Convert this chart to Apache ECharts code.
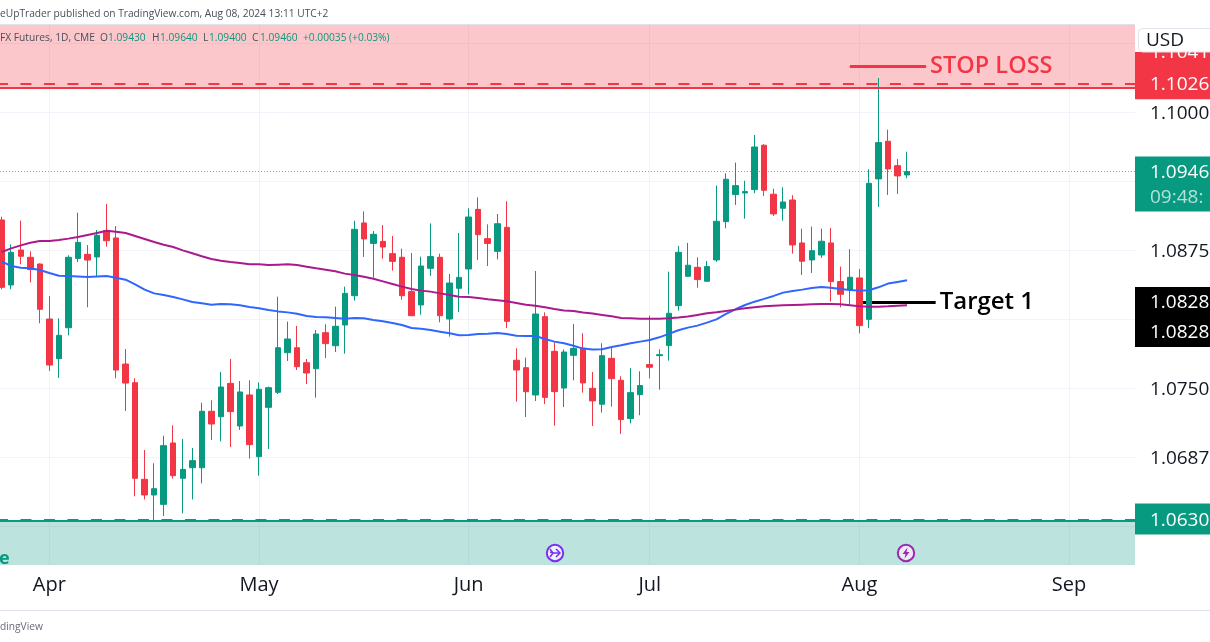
<!DOCTYPE html>
<html><head><meta charset="utf-8">
<style>html,body{margin:0;padding:0;background:#fff}#c{width:1210px;height:642px}</style>
<script src="https://cdn.jsdelivr.net/npm/echarts@6/dist/echarts.min.js"></script>
</head><body><div id="c"></div>
<script>
const dates=["03-22","03-25","03-26","03-27","03-28",
"04-01","04-02","04-03","04-04","04-05","04-08","04-09","04-10","04-11","04-12","04-15","04-16","04-17","04-18","04-19","04-22","04-23","04-24","04-25","04-26","04-29","04-30",
"05-01","05-02","05-03","05-06","05-07","05-08","05-09","05-10","05-13","05-14","05-15","05-16","05-17","05-20","05-21","05-22","05-23","05-24","05-28","05-29","05-30","05-31",
"06-03","06-04","06-05","06-06","06-07","06-10","06-11","06-12","06-13","06-14","06-17","06-18","06-20","06-21","06-24","06-25","06-26","06-27","06-28",
"07-01","07-02","07-03","07-05","07-08","07-09","07-10","07-11","07-12","07-15","07-16","07-17","07-18","07-19","07-22","07-23","07-24","07-25","07-26","07-29","07-30","07-31",
"08-01","08-02","08-05","08-06","08-07","08-08","08-09","08-12","08-13","08-14","08-15","08-16","08-19","08-20","08-21","08-22","08-23","08-26","08-27","08-28","08-29","08-30",
"09-02","09-03","09-04","09-05","09-06","09-09","09-10","09-11"];
const monthTicks={"04-01":"Apr","05-01":"May","06-03":"Jun","07-01":"Jul","08-01":"Aug","09-02":"Sep"};
const priceTicks={"1.10000":"1.1000","1.08750":"1.0875","1.07500":"1.0750","1.06875":"1.0687"};

const opens=[1.09022,1.08433,1.08750,1.08684,1.08623,1.08125,1.07766,1.08046,1.08674,1.08711,1.08687,1.08925,1.08859,1.07717,1.07548,1.06673,1.06531,1.06446,1.07002,1.06682,1.06778,1.06778,1.07289,1.07240,1.07542,1.07156,1.07437,1.06878,1.07325,1.07461,1.07820,1.07865,1.07729,1.07675,1.08001,1.07883,1.08071,1.08336,1.08995,1.08810,1.08828,1.08717,1.08684,1.08373,1.08252,1.08584,1.08684,1.08125,1.08403,1.08578,1.09118,1.08853,1.08738,1.08955,1.07751,1.07684,1.07437,1.08146,1.07832,1.07500,1.07796,1.07860,1.07497,1.07353,1.07769,1.07570,1.07223,1.07440,1.07712,1.07793,1.07884,1.08246,1.08512,1.08593,1.08467,1.08660,1.09007,1.09252,1.09267,1.09297,1.09699,1.09255,1.09128,1.09203,1.08814,1.08660,1.08705,1.08814,1.08464,1.08388,1.08497,1.08122,1.09394,1.09735,1.09514,1.09430];
const closes=[1.08412,1.08729,1.08693,1.08572,1.08213,1.07708,1.07977,1.08684,1.08819,1.08659,1.08883,1.08834,1.07663,1.07545,1.06682,1.06531,1.06588,1.06978,1.06706,1.06763,1.06842,1.07289,1.07174,1.07509,1.07286,1.07464,1.06987,1.07488,1.07503,1.07865,1.07944,1.07693,1.07636,1.07989,1.07902,1.08059,1.08357,1.08937,1.08850,1.08892,1.08777,1.08647,1.08336,1.08155,1.08605,1.08690,1.08155,1.08451,1.08502,1.09049,1.08889,1.08810,1.08988,1.08104,1.07663,1.07467,1.08170,1.07415,1.07467,1.07826,1.07859,1.07546,1.07383,1.07793,1.07585,1.07214,1.07458,1.07522,1.07688,1.07802,1.08177,1.08729,1.08612,1.08482,1.08600,1.09010,1.09391,1.09333,1.09279,1.09683,1.09291,1.09077,1.09185,1.08796,1.08648,1.08744,1.08829,1.08464,1.08349,1.08503,1.08065,1.09354,1.09723,1.09484,1.09421,1.09460];
const lows=[1.08394,1.08394,1.08620,1.08457,1.08086,1.07654,1.07591,1.07977,1.08641,1.08231,1.08508,1.08780,1.07588,1.07292,1.06519,1.06491,1.06298,1.06341,1.06679,1.06365,1.06491,1.06636,1.07029,1.07017,1.06966,1.07120,1.06860,1.06706,1.06947,1.07446,1.07745,1.07663,1.07536,1.07412,1.07772,1.07826,1.07811,1.08291,1.08687,1.08499,1.08671,1.08563,1.08300,1.08152,1.08164,1.08517,1.08095,1.07965,1.08188,1.08348,1.08659,1.08605,1.08665,1.08043,1.07376,1.07237,1.07382,1.07355,1.07159,1.07328,1.07569,1.07458,1.07156,1.07277,1.07331,1.07084,1.07180,1.07253,1.07588,1.07485,1.07748,1.08201,1.08506,1.08409,1.08464,1.08642,1.08947,1.09158,1.09034,1.09264,1.09240,1.09058,1.09016,1.08717,1.08524,1.08542,1.08678,1.08282,1.08231,1.08252,1.07996,1.08044,1.09140,1.09249,1.09258,1.09400];
const highs=[1.09052,1.08801,1.09016,1.08738,1.08629,1.08333,1.08131,1.08702,1.09088,1.08795,1.08931,1.09167,1.08967,1.07853,1.07588,1.06938,1.06818,1.07068,1.07162,1.07038,1.06956,1.07367,1.07388,1.07645,1.07763,1.07563,1.07569,1.07551,1.07512,1.08327,1.08101,1.08062,1.07763,1.08025,1.08077,1.08237,1.08418,1.09016,1.09100,1.08922,1.08976,1.08877,1.08762,1.08723,1.08690,1.08991,1.08717,1.08533,1.08904,1.09127,1.09227,1.08982,1.09076,1.09191,1.07859,1.07775,1.08560,1.08185,1.07914,1.07850,1.08080,1.07996,1.07645,1.07905,1.07866,1.07606,1.07679,1.07651,1.08156,1.07851,1.08554,1.08787,1.08814,1.08684,1.08651,1.09333,1.09445,1.09542,1.09378,1.09792,1.09708,1.09306,1.09318,1.09246,1.08944,1.08962,1.08944,1.08950,1.08600,1.08757,1.08578,1.09481,1.10308,1.09840,1.09575,1.09640];
const maBlue=[1.08644,1.08605,1.08590,1.08584,1.08569,1.08542,1.08517,1.08514,1.08511,1.08505,1.08511,1.08514,1.08499,1.08481,1.08439,1.08391,1.08357,1.08342,1.08324,1.08303,1.08279,1.08267,1.08255,1.08261,1.08258,1.08249,1.08234,1.08222,1.08206,1.08194,1.08185,1.08173,1.08152,1.08143,1.08140,1.08134,1.08128,1.08134,1.08131,1.08116,1.08104,1.08089,1.08071,1.08043,1.08037,1.08025,1.08010,1.07995,1.07977,1.07980,1.07989,1.07992,1.07998,1.07989,1.07974,1.07971,1.07971,1.07944,1.07920,1.07905,1.07883,1.07857,1.07848,1.07851,1.07872,1.07887,1.07905,1.07920,1.07935,1.07959,1.07990,1.08023,1.08047,1.08065,1.08092,1.08122,1.08171,1.08213,1.08252,1.08282,1.08307,1.08334,1.08364,1.08379,1.08391,1.08406,1.08415,1.08409,1.08397,1.08388,1.08382,1.08385,1.08412,1.08446,1.08461,1.08476];
const maPurple=[1.08732,1.08765,1.08792,1.08816,1.08831,1.08831,1.08841,1.08853,1.08868,1.08886,1.08904,1.08925,1.08916,1.08904,1.08877,1.08850,1.08822,1.08798,1.08777,1.08747,1.08720,1.08693,1.08668,1.08653,1.08641,1.08632,1.08620,1.08620,1.08614,1.08617,1.08620,1.08614,1.08599,1.08584,1.08572,1.08557,1.08536,1.08523,1.08508,1.08490,1.08466,1.08442,1.08418,1.08397,1.08382,1.08373,1.08357,1.08342,1.08327,1.08324,1.08315,1.08303,1.08294,1.08285,1.08270,1.08255,1.08246,1.08231,1.08216,1.08203,1.08197,1.08183,1.08174,1.08162,1.08150,1.08135,1.08132,1.08128,1.08128,1.08128,1.08132,1.08138,1.08147,1.08162,1.08177,1.08186,1.08198,1.08210,1.08222,1.08231,1.08240,1.08246,1.08249,1.08252,1.08255,1.08258,1.08261,1.08261,1.08258,1.08249,1.08240,1.08237,1.08237,1.08240,1.08246,1.08249];

const stopEntry=1.1026, stopEdge=1.10217, stopLevel=1.1041;
const targetEntry=1.0631, targetEdge=1.0630, lastPrice=1.0946, targetLevel=1.0828;
const axisMin=1.05625, axisMax=1.1125, tickStep=0.00625;

const RED='#f23645',GREEN='#089981',INK='#131722',FONT='"Open Sans","Noto Sans",sans-serif';
const candleData=opens.map((o,i)=>[o,closes[i],lows[i],highs[i]]);

const chart=echarts.init(document.getElementById('c'),null,{renderer:'canvas'});
chart.setOption({
  animation:false,
  grid:[
    {left:-3.06,top:-26,width:1143.6,height:621,containLabel:false,outerBoundsMode:'none'},
    {left:-3.06,top:-24,width:1143.6,height:621,containLabel:false,outerBoundsMode:'none'}
  ],
  xAxis:[
    {type:'category',gridIndex:0,data:dates,boundaryGap:true,axisLine:{show:false},axisTick:{show:false},axisLabel:{show:false},
     splitLine:{show:true,alignWithLabel:true,interval:(i,v)=>v in monthTicks,lineStyle:{color:'#f0f3fa',width:1}},z:0},
    {type:'category',gridIndex:1,data:dates,boundaryGap:true,position:'bottom',offset:-22,axisLine:{show:false},axisTick:{show:false},splitLine:{show:false},z:30,
     axisLabel:{show:true,margin:0,interval:(i,v)=>v in monthTicks,formatter:v=>monthTicks[v]||'',color:INK,fontSize:20,fontWeight:500,fontFamily:FONT}}
  ],
  yAxis:[
    {type:'value',gridIndex:0,min:axisMin,max:axisMax,interval:tickStep,position:'right',scale:true,axisLine:{show:false},axisTick:{show:false},axisLabel:{show:false},
     splitLine:{show:true,lineStyle:{color:'#f0f3fa',width:1}},z:0},
    {type:'value',gridIndex:1,min:axisMin,max:axisMax,interval:tickStep,position:'right',scale:true,axisLine:{show:false},axisTick:{show:false},splitLine:{show:false},z:30,
     axisLabel:{show:true,margin:9.5,color:INK,fontSize:19,fontFamily:FONT,formatter:v=>priceTicks[Number(v).toFixed(5)]||''}}
  ],
  series:[
    {type:'line',name:'annot',xAxisIndex:0,yAxisIndex:0,data:[],z:1,silent:true,
     markLine:{silent:true,z:1,precision:6,symbol:'none',animation:false,data:[
       [{xAxis:'08-01',yAxis:targetLevel},{xAxis:'08-13',yAxis:targetLevel,
         lineStyle:{color:'#000',width:3,type:'solid'},
         label:{show:true,position:'end',distance:4,formatter:'Target 1',color:'#000',fontSize:24,fontWeight:600,fontFamily:FONT}}]
     ]}},
    {type:'candlestick',name:'6E',xAxisIndex:0,yAxisIndex:0,data:candleData,barWidth:6,z:2,
     itemStyle:{color:GREEN,color0:RED,borderColor:GREEN,borderColor0:RED,borderColorDoji:GREEN,borderWidth:1},
     markArea:{silent:true,data:[
       [{yAxis:stopEdge,itemStyle:{color:'rgba(242,54,69,0.28)'}},{yAxis:axisMax}],
       [{yAxis:targetEdge,itemStyle:{color:'rgba(8,153,129,0.27)'}},{yAxis:axisMin}]
     ]},
     markLine:{silent:true,precision:6,symbol:'none',animation:false,z:3,label:{show:false},data:[
       {yAxis:stopEntry,lineStyle:{color:RED,width:2,type:[11,12.5]}},
       {yAxis:stopEdge,lineStyle:{color:RED,width:2,type:'solid'}},
       {yAxis:targetEntry,lineStyle:{color:GREEN,width:2,type:[11,12.5]}},
       {yAxis:targetEdge,lineStyle:{color:GREEN,width:2,type:'solid'}},
       {yAxis:lastPrice,lineStyle:{color:'rgba(8,153,129,0.7)',width:1,type:[1,2]}},
       [{xAxis:'07-31',yAxis:stopLevel},{xAxis:'08-12',yAxis:stopLevel,
         lineStyle:{color:RED,width:3,type:'solid'},
         label:{show:true,position:'end',distance:4,padding:[6,0,0,0],formatter:'STOP LOSS',color:RED,fontSize:23.5,fontWeight:600,fontFamily:FONT}}]
     ]}},
    {type:'line',name:'MA fast',xAxisIndex:0,yAxisIndex:0,data:maBlue,showSymbol:false,z:4,lineStyle:{color:'#2f66ff',width:2},silent:true},
    {type:'line',name:'MA slow',xAxisIndex:0,yAxisIndex:0,data:maPurple,showSymbol:false,z:4,lineStyle:{color:'#ab1a8c',width:2},silent:true}
  ]
});

const Y=p=>chart.convertToPixel({yAxisIndex:0},p);
const rect=(x,y,w,h,fill,z,extra)=>Object.assign({type:'rect',shape:{x,y,width:w,height:h,r:(extra&&extra.r)||0},style:{fill,stroke:extra&&extra.stroke,lineWidth:extra&&extra.stroke?1:0},z,silent:true});
const text=(x,y,t,fill,size,z,o)=>({type:'text',x,y,z,silent:true,style:Object.assign({text:t,fill,font:`${(o&&o.weight)||400} ${size}px ${FONT}`,verticalAlign:'middle',align:'left'},o&&o.style)});
const P=1150;
const yStop=Y(stopEntry),yLast=Y(lastPrice),yTgt=Y(targetLevel),yTe=Y(targetEntry);
const header=[
 ['eUpTrader published on TradingView.com, Aug 08, 2024 13:11 UTC+2',0,'#4a4e59'],
];
const legend=[
 ['FX Futures, 1D, CME',0,'#4a4e59'],['O',100,'#4a4e59'],['1.09430',108,GREEN],['H',152,'#4a4e59'],['1.09640',160,GREEN],
 ['L',203,'#4a4e59'],['1.09400',209,GREEN],['C',252,'#4a4e59'],['1.09460',260,GREEN],['+0.00035 (+0.03%)',303,GREEN]
];
const g=[
 rect(0,0,1210,24.5,'#fff',20),
 rect(0,24,1135,1,'#e0e3eb',21),
 rect(1135,0,75,642,'#fff',20),
 rect(0,565,1210,77,'#fff',20),
 rect(0,610,1210,1,'#e0e3eb',21),
 rect(1135,52,75,yStop+16-52,RED,22),
 text(P,53,'1.1041','#fff',19,23),
 rect(1135,24,75,28,'#fff',24),
 rect(1138.5,28.5,80,23.5,'#fff',25,{stroke:'#e0e3eb',r:4}),
 text(1146,41,'USD',INK,19,26),
 text(P,yStop+1,'1.1026','#fff',19,23),
 rect(1135,yLast-15,75,55,GREEN,22),
 text(P,yLast+1,'1.0946','#fff',19,23),
 text(P,yLast+26,'09:48:','#b5e0d8',19,23),
 rect(1135,yTgt-15,75,60,'#000',22),
 text(P,yTgt+1,'1.0828','#fff',19,23),
 text(P,yTgt+31,'1.0828','#fff',19,23),
 rect(1135,yTe-16,75,31,GREEN,22),
 text(P,yTe+1,'1.0630','#fff',19,23),
 text(-1,559,'e',GREEN,18,10,{weight:700}),
 {type:'circle',shape:{cx:555,cy:553,r:8.2},style:{fill:'#eef0fb',stroke:'#7b2ff2',lineWidth:2},z:12,silent:true},
 {type:'polyline',shape:{points:[[550,552],[553,553],[559.5,553]]},style:{stroke:'#7b2ff2',lineWidth:1.5,fill:null},z:13,silent:true},
 {type:'polyline',shape:{points:[[556,549],[560,553],[556,557]]},style:{stroke:'#7b2ff2',lineWidth:1.5,fill:null},z:13,silent:true},
 {type:'polyline',shape:{points:[[550,549],[553,553],[550,557]]},style:{stroke:'#7b2ff2',lineWidth:1.5,fill:null},z:13,silent:true},
 {type:'circle',shape:{cx:906,cy:553,r:8.2},style:{fill:'#ecebf5',stroke:'#9c27b0',lineWidth:2},z:12,silent:true},
 {type:'polygon',shape:{points:[[907.5,547.5],[902.5,554],[905.5,554],[904.5,558.5],[909.5,552],[906.5,552]]},style:{fill:'#9c27b0'},z:13,silent:true},
 text(0,627,'dingView','#6a6d78',10.2,26),
];
header.forEach(h=>g.push(text(h[1],14,h[0],h[2],10.2,26)));
legend.forEach(h=>g.push(text(h[1],38,h[0],h[2],10.2,26)));
chart.setOption({graphic:{elements:g}});
</script></body></html>
